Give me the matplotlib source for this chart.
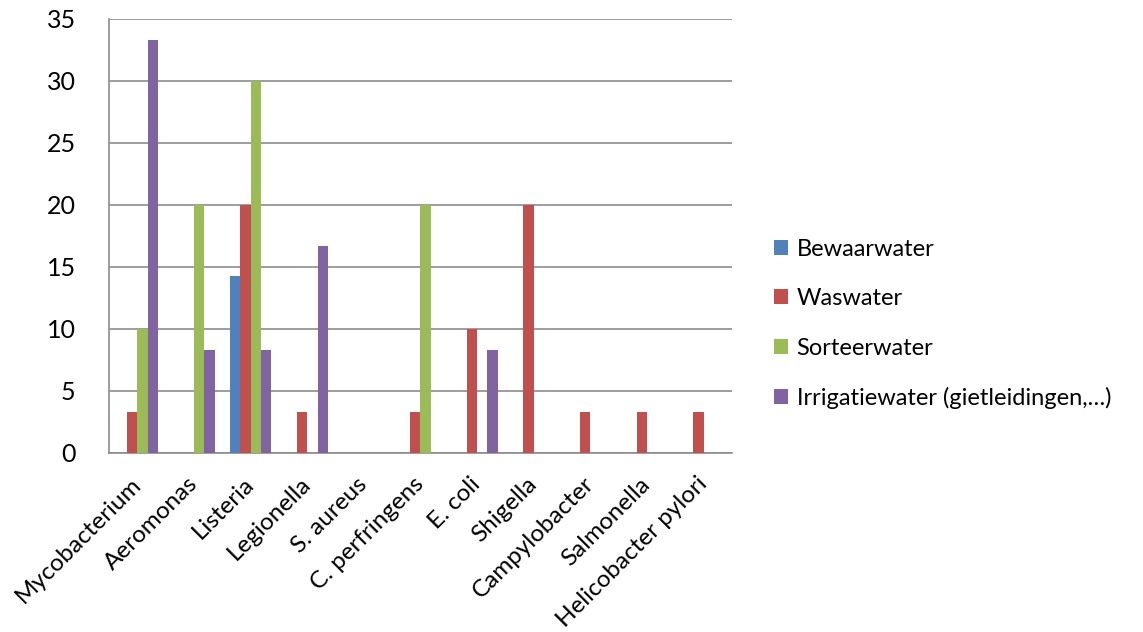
import numpy as np
import matplotlib
matplotlib.use("Agg")
import matplotlib.pyplot as plt
from matplotlib.patches import Patch

plt.rcParams['font.family'] = ['Lato', 'DejaVu Sans']

categories = ["Mycobacterium", "Aeromonas", "Listeria", "Legionella", "S. aureus",
              "C. perfringens", "E. coli", "Shigella", "Campylobacter", "Salmonella",
              "Helicobacter pylori"]
bewaarwater = [0, 0, 14.29, 0, 0, 0, 0, 0, 0, 0, 0]
waswater = [3.33, 0, 20, 3.33, 0, 3.33, 10, 20, 3.33, 3.33, 3.33]
sorteerwater = [10, 20, 30, 0, 0, 20, 0, 0, 0, 0, 0]
irrigatiewater = [33.33, 8.33, 8.33, 16.67, 0, 0, 8.33, 0, 0, 0, 0]

series = [
    ("Bewaarwater", bewaarwater, "#4F81BD"),
    ("Waswater", waswater, "#C0504D"),
    ("Sorteerwater", sorteerwater, "#9BBB59"),
    ("Irrigatiewater (gietleidingen,\u2026)", irrigatiewater, "#8064A2"),
]

fig = plt.figure(figsize=(11.43, 6.32), dpi=100)
ax = fig.add_axes([109 / 1143, 1 - 453 / 632, (732 - 109) / 1143, (453 - 19) / 632])

x = np.arange(len(categories))
n = len(series)
width = 1 / (n + 1.5)
for i, (name, vals, color) in enumerate(series):
    offs = (i - (n - 1) / 2) * width
    ax.bar(x + offs, vals, width=width, color=color, label=name, zorder=3)

ax.set_xlim(-0.5, len(categories) - 0.5)
ax.set_ylim(0, 35)
ax.set_yticks(np.arange(0, 36, 5))
ax.yaxis.grid(True, color="#8c8c8c", linewidth=1.2, zorder=0)
ax.set_axisbelow(True)

for side in ["top", "right"]:
    ax.spines[side].set_visible(False)
for side in ["left", "bottom"]:
    ax.spines[side].set_color("#8c8c8c")
    ax.spines[side].set_linewidth(1.2)

ax.set_xticks(x)
ax.set_xticklabels(categories, rotation=45, ha="right", rotation_mode="anchor", fontsize=17.5)
for lbl in ax.get_xticklabels():
    lbl.set_va("center")
ax.tick_params(axis="x", length=0, pad=20)
ax.tick_params(axis="y", length=0, pad=24, labelsize=18)

handles = [Patch(facecolor=c, label=nm) for nm, _, c in series]
fig.legend(handles=handles, loc="center left", bbox_to_anchor=(753 / 1143, 1 - 324 / 632),
           frameon=False, fontsize=17, handlelength=0.6, handleheight=0.6,
           handletextpad=0.35, labelspacing=1.2)

fig.savefig("out.png", dpi=100, facecolor="white")
